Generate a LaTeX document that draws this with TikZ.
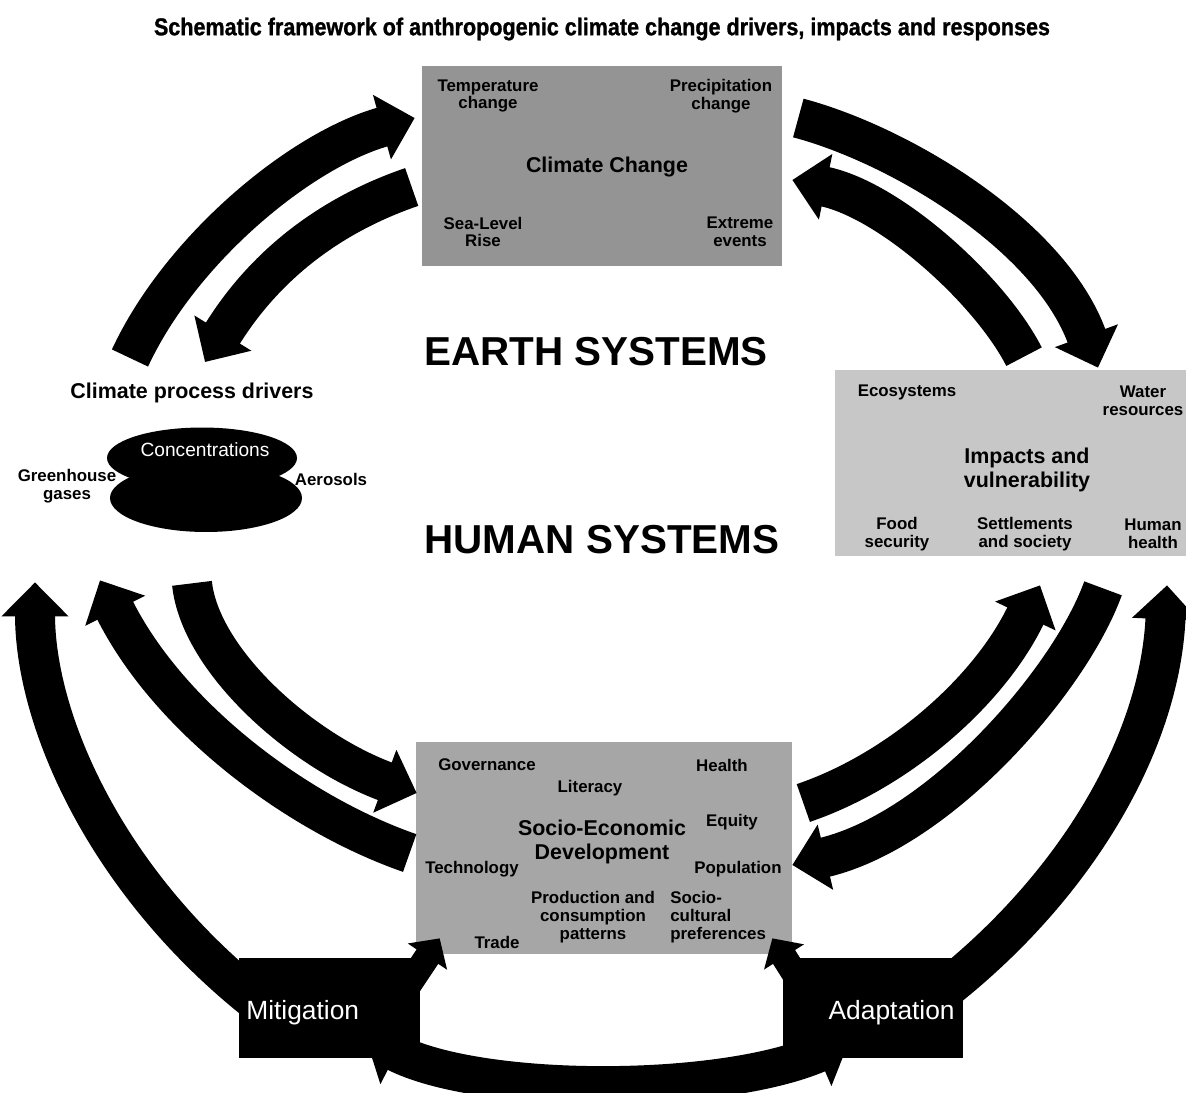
\documentclass[tikz,border=0pt]{standalone}
\usepackage{fontspec}
\setmainfont{Liberation Sans}
\newfontfamily\titlefont[FakeBold=1.2]{Liberation Sans Bold}
\usepackage{graphicx}
\usetikzlibrary{arrows.meta,shapes.geometric}

\tikzset{
  bigarrow/.style={line width=0.8cm,-{Triangle[length=0.68cm,width=1.3cm]}},
  twoway/.style={line width=0.76cm,{Triangle[length=0.7cm,width=1.36cm]}-{Triangle[length=0.7cm,width=1.36cm]}},
  shortarrow/.style={line width=0.52cm,-{Triangle[length=0.44cm,width=0.92cm]}},
  graybox/.style={rectangle,inner sep=0pt},
  respbox/.style={rectangle,inner sep=0pt,fill=black,minimum width=3.6cm,minimum height=2cm},
  lab/.style={inner sep=0pt,align=center,font=\fontsize{9.6}{10.2}\selectfont\bfseries},
  head/.style={inner sep=0pt,align=center,font=\fontsize{12.2}{14}\selectfont\bfseries},
  sysname/.style={inner sep=0pt,font=\fontsize{23}{26}\selectfont\bfseries},
  resp/.style={inner sep=0pt,text=white,font=\fontsize{15}{18}\selectfont},
}

\begin{document}
\begin{tikzpicture}[x=0.02cm,y=-0.02cm]
\useasboundingbox (0,0) rectangle (1186,1092);
\clip (0,0) rectangle (1186,1092);

\node (title) at (602,29) {\resizebox{510pt}{10pt}{\titlefont Schematic framework of anthropogenic climate change drivers, impacts and responses}};

% boxes
\node[graybox,fill=black!42,minimum width=7.2cm,minimum height=4cm] (cc) at (602,166) {};
\node[graybox,fill=black!22,minimum width=7.3cm,minimum height=3.72cm] (imp) at (1017.5,463) {};
\node[graybox,fill=black!35,minimum width=7.52cm,minimum height=4.24cm] (sed) at (604,848) {};
\node[respbox,minimum width=3.62cm] (mit) at (329.5,1008) {};
\node[respbox] (ada) at (873,1008) {};

% climate change
\node[lab] (tc) at (488,96) {Temperature\\change};
\node[lab] (pc) at (721,96) {Precipitation\\change};
\node[head] (ccl) at (607,167) {Climate Change};
\node[lab] (sl) at (483,232) {Sea-Level\\Rise};
\node[lab] (ee) at (740,232) {Extreme\\events};

% impacts
\node[lab] (eco) at (907,392) {Ecosystems};
\node[lab] (wr) at (1143,401) {Water\\resources};
\node[head] (iv) at (1027,470) {Impacts and\\vulnerability};
\node[lab] (fs) at (897,534) {Food\\security};
\node[lab] (ss) at (1025,534) {Settlements\\and society};
\node[lab] (hh) at (1153,534) {Human\\health};

% socio-economic development
\node[lab] (gov) at (487,765) {Governance};
\node[lab] (lit) at (590,788) {Literacy};
\node[lab] (hea) at (722,765) {Health};
\node[head] (sedl) at (602,842) {Socio-Economic\\Development};
\node[lab] (equ) at (732,822) {Equity};
\node[lab] (tec) at (472,869) {Technology};
\node[lab] (pop) at (738,869) {Population};
\node[lab] (pcp) at (593,917) {Production and\\consumption\\patterns};
\node[lab,anchor=west,align=left] (scp) at (670,917) {Socio-\\cultural\\preferences};
\node[lab] (tra) at (497,942) {Trade};

% drivers
\node[head] (drv) at (192,393) {Climate process drivers};
\node[ellipse,inner sep=0pt,fill=black,minimum width=3.84cm,minimum height=1.36cm] (ghg) at (206,498) {};
\node[ellipse,inner sep=0pt,fill=black,minimum width=3.8cm,minimum height=1.22cm] (conc) at (202,458) {};
\node[inner sep=0pt,text=white,font=\fontsize{10.9}{12}\selectfont] (concl) at (205,450) {Concentrations};
\node[lab] (gg) at (67,486) {Greenhouse\\gases};
\node[lab] (aer) at (331,479) {Aerosols};

\node[sysname] (earth) at (596,352) {EARTH SYSTEMS};
\node[sysname] (human) at (602,540) {HUMAN SYSTEMS};

% arrows, upper half
\draw[bigarrow] ([shift={(-62,-35)}]drv.center) .. controls (180,250) and (300,150) .. ([shift={(-7,-48)}]cc.west);
\draw[bigarrow] ([shift={(-10,21)}]cc.west) .. controls (330,215) and (265,265) .. ([shift={(13,-31)}]drv.center);
\draw[bigarrow] ([shift={(16,-48)}]cc.east) .. controls (900,145) and (1050,235) .. ([shift={(80.5,-2)}]imp.north);
\draw[bigarrow] ([shift={(6.5,-13)}]imp.north) .. controls (990,290) and (890,200) .. ([shift={(10,14)}]cc.east);

% arrows, lower half
\draw[bigarrow] ([shift={(16,-8)}]mit.west) .. controls (105,880) and (35,720) .. ([shift={(-171,50)}]ghg.south);
\draw[bigarrow] ([shift={(-6,5)}]sed.west) .. controls (300,815) and (170,720) .. ([shift={(-106,48)}]ghg.south);
\draw[bigarrow] ([shift={(-14,51)}]ghg.south) .. controls (200,660) and (300,750) .. ([shift={(1,-55)}]sed.west);
\draw[bigarrow] ([shift={(11,-45)}]sed.east) .. controls (900,770) and (990,690) .. ([shift={(22.5,29)}]imp.south);
\draw[bigarrow] ([shift={(85.5,32)}]imp.south) .. controls (1070,680) and (940,830) .. ([shift={(0,17)}]sed.east);
\draw[bigarrow] ([shift={(-13,-23)}]ada.east) .. controls (1080,880) and (1160,740) .. ([shift={(149.5,29)}]imp.south);

% responses
\draw[twoway] ([shift={(-55,29)}]mit.east) .. controls (480,1096) and (720,1096) .. ([shift={(67,32)}]ada.west);
\draw[shortarrow] ([shift={(-15,32)}]mit.north east) -- ([shift={(24,-16)}]sed.south west);
\draw[shortarrow] ([shift={(22,32)}]ada.north west) -- ([shift={(-20,-16)}]sed.south east);
\node[resp,anchor=west] (mitl) at (246,1013) {Mitigation};
\node[resp,anchor=east] (adal) at (955,1013) {Adaptation};
\end{tikzpicture}
\end{document}
